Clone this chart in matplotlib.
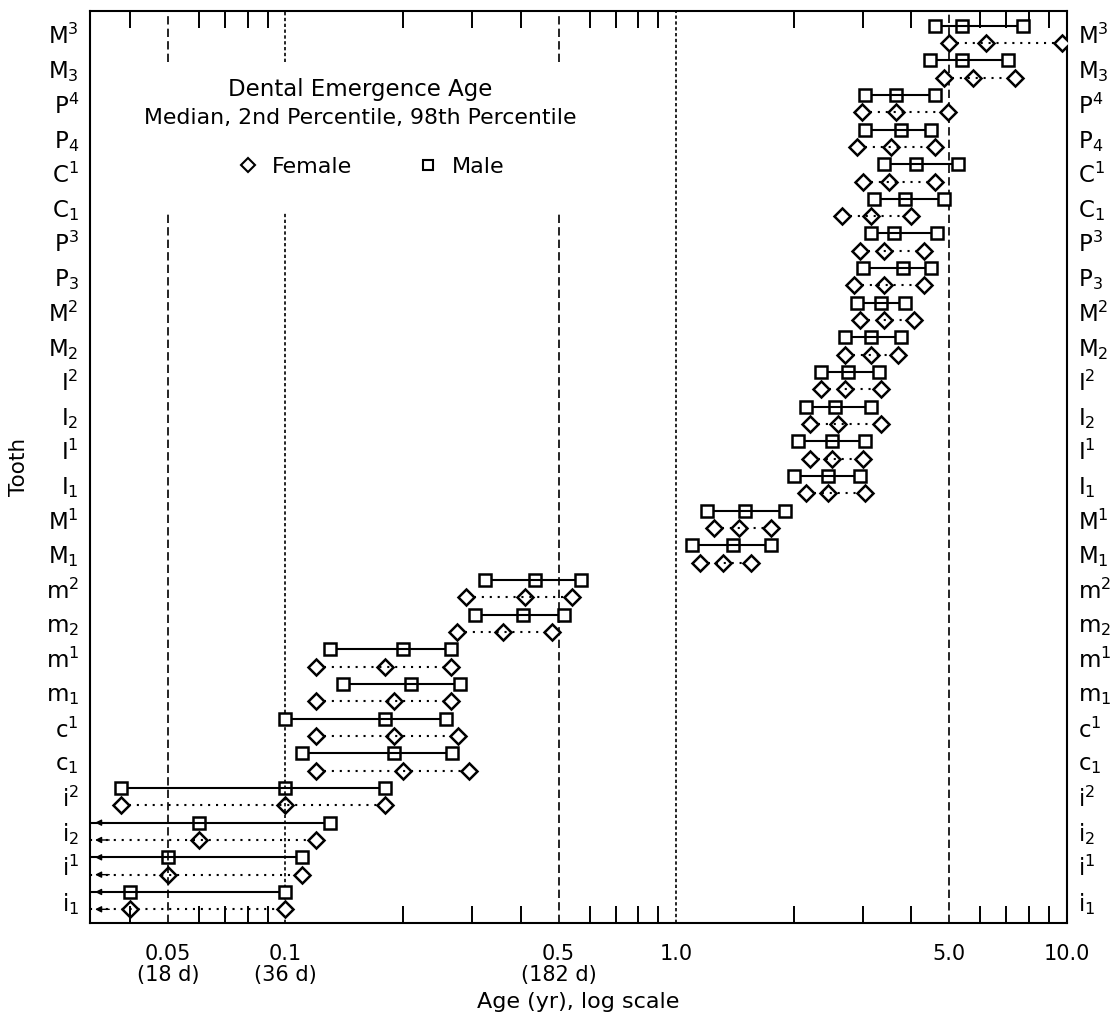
import numpy as np
import matplotlib.pyplot as plt
from matplotlib.lines import Line2D

plt.rcParams['font.family'] = ['DejaVu Sans']
plt.rcParams['mathtext.default'] = 'regular'

# teeth from the top of the chart to the bottom
teeth = ['M^3', 'M_3', 'P^4', 'P_4', 'C^1', 'C_1', 'P^3', 'P_3', 'M^2', 'M_2',
         'I^2', 'I_2', 'I^1', 'I_1', 'M^1', 'M_1', 'm^2', 'm_2', 'm^1', 'm_1',
         'c^1', 'c_1', 'i^2', 'i_2', 'i^1', 'i_1']

# emergence age in years; nan = 2nd percentile is off the left of the axis
male_p2 = [4.6, 4.45, 3.05, 3.05, 3.4, 3.2, 3.15, 3.0, 2.9, 2.7,
           2.35, 2.15, 2.05, 2.0, 1.2, 1.1, 0.325, 0.305, 0.13, 0.14,
           0.1, 0.11, 0.038, np.nan, np.nan, np.nan]
male_med = [5.4, 5.4, 3.65, 3.75, 4.1, 3.85, 3.6, 3.8, 3.35, 3.15,
            2.75, 2.55, 2.5, 2.45, 1.5, 1.4, 0.435, 0.405, 0.2, 0.21,
            0.18, 0.19, 0.1, 0.06, 0.05, 0.04]
male_p98 = [7.7, 7.05, 4.6, 4.5, 5.25, 4.85, 4.65, 4.5, 3.85, 3.75,
            3.3, 3.15, 3.05, 2.95, 1.9, 1.75, 0.57, 0.515, 0.265, 0.28,
            0.257, 0.267, 0.18, 0.13, 0.11, 0.1]

female_p2 = [5.0, 4.85, 2.98, 2.9, 3.0, 2.65, 2.95, 2.85, 2.95, 2.7,
             2.35, 2.2, 2.2, 2.15, 1.25, 1.15, 0.29, 0.275, 0.12, 0.12,
             0.12, 0.12, 0.038, np.nan, np.nan, np.nan]
female_med = [6.2, 5.75, 3.65, 3.55, 3.5, 3.15, 3.4, 3.4, 3.4, 3.15,
              2.7, 2.6, 2.5, 2.45, 1.45, 1.32, 0.41, 0.36, 0.18, 0.19,
              0.19, 0.2, 0.1, 0.06, 0.05, 0.04]
female_p98 = [9.7, 7.35, 4.95, 4.6, 4.6, 4.0, 4.3, 4.3, 4.05, 3.7,
              3.35, 3.35, 3.0, 3.05, 1.75, 1.55, 0.54, 0.48, 0.265, 0.265,
              0.277, 0.295, 0.18, 0.12, 0.11, 0.1]

x_ticks = [0.05, 0.1, 0.5, 1.0, 5.0, 10.0]
x_ticklabels = ['0.05\n(18 d)', '0.1\n(36 d)', '0.5\n(182 d)', '1.0', '5.0', '10.0']
x_minor = [0.04, 0.06, 0.07, 0.08, 0.09, 0.2, 0.3, 0.4, 0.6, 0.7, 0.8, 0.9,
           2, 3, 4, 6, 7, 8, 9]

X_MIN = 10 ** -1.5
X_MAX = 10.0


def draw_row(ax, y, lo, med, hi, marker, ls):
    start = X_MIN if np.isnan(lo) else lo
    ax.plot([start, hi], [y, y], color='k', lw=1.5, ls=ls, zorder=2)
    ax.plot([med], [y], marker=marker, ms=8.5, mfc='none', mec='k', mew=1.8,
            ls='none', zorder=3)
    ends = [hi] if np.isnan(lo) else [lo, hi]
    ax.plot(ends, [y] * len(ends), marker=marker, ms=8.5, mfc='white', mec='k',
            mew=1.8, ls='none', zorder=3)
    if np.isnan(lo):
        ax.annotate('', xy=(X_MIN * 1.03, y), xytext=(X_MIN * 1.12, y),
                    arrowprops=dict(arrowstyle='-|>', color='k', lw=1.0,
                                    mutation_scale=9, shrinkA=0, shrinkB=0),
                    zorder=4)


def main():
    fig = plt.figure(figsize=(11.1, 10.25), dpi=100)
    ax = fig.add_axes([90 / 1110, 102 / 1025, 977 / 1110, 912 / 1025])

    n = len(teeth)
    for i in range(n):
        j = n - 1 - i
        draw_row(ax, j + 0.25, male_p2[i], male_med[i], male_p98[i], 's', '-')
        draw_row(ax, j - 0.25, female_p2[i], female_med[i], female_p98[i], 'D',
                 (0, (1, 2.8)))

    # reference lines at the labelled ages
    dash_long = (0, (5, 2.5))
    dash_short = (0, (2, 1.5))
    for xv, ls in [(0.05, dash_long), (0.1, dash_short), (0.5, dash_long)]:
        ax.axvline(xv, 0, 0.78, color='k', lw=1.2, ls=ls, zorder=1)
        ax.axvline(xv, 0.944, 1, color='k', lw=1.2, ls=ls, zorder=1)
    ax.axvline(1.0, color='k', lw=1.2, ls=dash_short, zorder=1)
    ax.axvline(5.0, color='k', lw=1.2, ls=dash_long, zorder=1)

    ax.set_xscale('log')
    ax.set_xlim(X_MIN, X_MAX)
    ax.set_ylim(-0.645, 25.67)

    ax.set_xticks(x_ticks)
    ax.set_xticklabels(x_ticklabels, fontsize=15)
    ax.set_xticks(x_minor, minor=True)
    ax.xaxis.set_minor_formatter(plt.NullFormatter())
    for lab in ax.get_xticklabels():
        lab.set_linespacing(1.05)
    ax.tick_params(axis='x', which='major', length=0, pad=15)
    ax.tick_params(axis='x', which='minor', direction='in', length=12,
                   width=1.4, top=True, bottom=True)

    ax.set_yticks(np.arange(n))
    ax.set_yticklabels(['$' + t + '$' for t in teeth[::-1]], fontsize=16.5)
    ax.tick_params(axis='y', length=0, pad=8, labelleft=True, labelright=True)

    for sp in ax.spines.values():
        sp.set_linewidth(1.5)

    ax.set_xlabel('Age (yr), log scale', fontsize=16, labelpad=5)
    ax.set_ylabel('Tooth', fontsize=15.5, labelpad=12)

    ax.text(0.277, 0.914, 'Dental Emergence Age', transform=ax.transAxes,
            ha='center', va='center', fontsize=16.5)
    ax.text(0.277, 0.883, 'Median, 2nd Percentile, 98th Percentile',
            transform=ax.transAxes, ha='center', va='center', fontsize=15.8)

    handles = [Line2D([], [], marker='D', ls='none', mfc='none', mec='k', ms=7,
                      mew=1.5, label='Female'),
               Line2D([], [], marker='s', ls='none', mfc='none', mec='k', ms=7,
                      mew=1.5, label='Male')]
    ax.legend(handles=handles, loc='center left', bbox_to_anchor=(0.15, 0.829),
              ncol=2, frameon=False, fontsize=16, handlelength=1.0,
              handletextpad=0.6, columnspacing=2.9, borderpad=0,
              borderaxespad=0)

    fig.savefig('out.png', dpi=100)


main()
